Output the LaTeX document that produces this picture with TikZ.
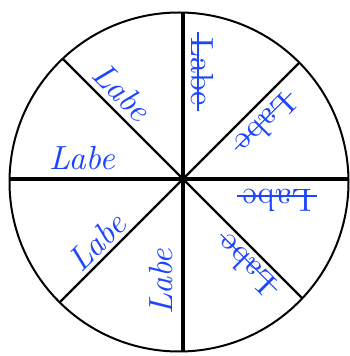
\documentclass[tikz,border=0pt]{standalone}
\usepackage{fontspec}
\setmainfont{lmroman10-regular}[Extension=.otf, ItalicFont=lmroman10-italic]
\usetikzlibrary{calc}
\definecolor{labblue}{RGB}{30,70,255}
\begin{document}
\begin{tikzpicture}[x=1pt,y=1pt,
  rim/.style={line width=2pt},
  axisline/.style={line width=3.2pt},
  diagline/.style={line width=2.3pt},
  lab/.style={text=labblue,inner sep=0pt,font=\fontsize{33.5}{38}\selectfont\itshape},
  labup/.style={text=labblue,inner sep=0pt,font=\fontsize{32}{38}\selectfont},
  strike/.style={draw=labblue,line width=1.2pt}]
\useasboundingbox (0,0) rectangle (349,356);
\coordinate (O) at (179,174);
\coordinate (H) at (183,177);
\draw[rim] (O) circle (169.5);
\coordinate (e0) at (348.5,177);
\coordinate (e45) at (299.35,293.35);
\coordinate (e90) at (183,343.45);
\coordinate (e135) at (62.7,297.3);
\coordinate (e180) at (9.5,177);
\coordinate (e225) at (59.6,53.6);
\coordinate (e270) at (183,4.55);
\coordinate (e315) at (302.3,57.7);
\draw[axisline] (e180) -- (H) -- (e0);
\draw[axisline] (e90) -- (H) -- (e270);
\draw[diagline] (e135) -- (H) -- (e315);
\draw[diagline] (e45) -- (H) -- (e225);
\node[lab] (l1) at (82,198) {Labe};
\node[lab, rotate=-45] (l2) at (122,264) {Labe};
\node[labup, rotate=-90] (l3) at (202,284.5) {Labe};
\node[labup, rotate=225] (l4) at (266,232) {Labe};
\node[labup, rotate=180] (l5) at (277,156) {Labe};
\node[labup, rotate=135] (l6) at (246,91) {Labe};
\node[lab, rotate=90] (l7) at (161.5,74.5) {Labe};
\node[lab, rotate=45] (l8) at (97,114) {Labe};
\foreach \n in {l3,l4,l5,l6}{
  \coordinate (\n-a) at ($(\n.base west)!0.31!(\n.north west)$);
  \coordinate (\n-b) at ($(\n.base east)!0.31!(\n.north east)$);
  \draw[strike] ($(\n-a)!-5pt!(\n-b)$) -- ($(\n-b)!-5pt!(\n-a)$);
}
\end{tikzpicture}
\end{document}
